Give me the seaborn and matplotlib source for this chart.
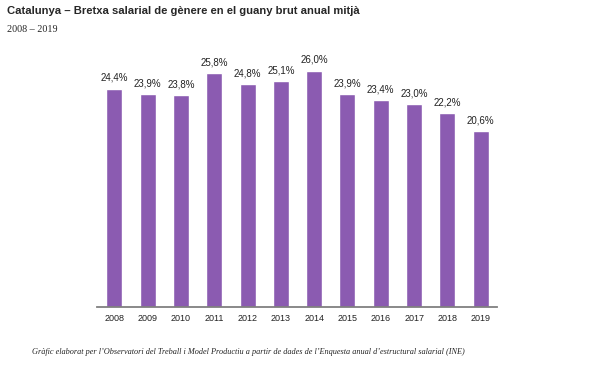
import matplotlib
matplotlib.use("Agg")
import matplotlib.pyplot as plt
import seaborn as sns
import pandas as pd

# ============================================================
# DATA
# ============================================================
years = ["2008", "2009", "2010", "2011", "2012", "2013",
         "2014", "2015", "2016", "2017", "2018", "2019"]
gap = [24.4, 23.9, 23.8, 25.8, 24.8, 25.1,
       26.0, 23.9, 23.4, 23.0, 22.2, 20.6]

title = "Catalunya \u2013 Bretxa salarial de g\u00e8nere en el guany brut anual mitj\u00e0"
subtitle = "2008 \u2013 2019"
source = ("Gr\u00e0fic elaborat per l\u2019Observatori del Treball i Model Productiu "
          "a partir de dades de l\u2019Enquesta anual d\u2019estructural salarial (INE)")

df = pd.DataFrame({"year": years, "gap": gap})

# ============================================================
# PLOT
# ============================================================
sns.set_style("white")
plt.rcParams["font.family"] = ["Liberation Sans", "DejaVu Sans"]

fig = plt.figure(figsize=(5.93, 3.69), dpi=100)
ax = fig.add_axes([97 / 593, 62 / 369, 400 / 593, 259 / 369])

sns.barplot(data=df, x="year", y="gap", color="#8b5bb1", saturation=1,
            width=0.48, ax=ax)

for i, v in enumerate(gap):
    ax.text(i, v + 0.5, f"{v:.1f}%".replace(".", ","), ha="center",
            va="bottom", fontsize=7, color="#222222")

ax.set_ylim(5, 28)
ax.set_xlim(-0.52, 11.49)
ax.set_xlabel("")
ax.set_ylabel("")
ax.set_yticks([])
ax.tick_params(axis="x", length=0, labelsize=6.5, colors="#222222", pad=5)
for s in ["top", "right", "left"]:
    ax.spines[s].set_visible(False)
ax.spines["bottom"].set_color("#808080")
ax.spines["bottom"].set_linewidth(1.3)

fig.text(7 / 593, 1 - 11 / 369, title, fontsize=8.1, fontweight="bold",
         va="center", ha="left")
fig.text(7 / 593, 1 - 29 / 369, subtitle, fontsize=7.3, va="center",
         ha="left", family=["Liberation Serif", "DejaVu Serif"])
fig.text(248 / 593, 1 - 352 / 369, source, fontsize=5.95, style="italic",
         va="center", ha="center", family=["Liberation Serif", "DejaVu Serif"])

fig.savefig("out.png", dpi=100)
